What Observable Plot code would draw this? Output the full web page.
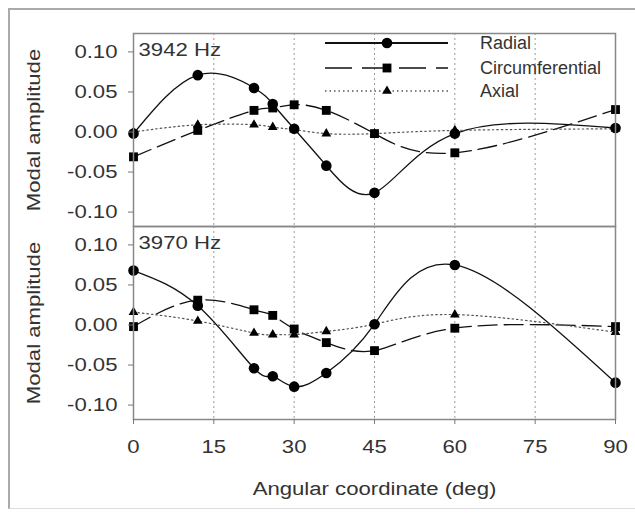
<!DOCTYPE html>
<html><head><meta charset="utf-8">
<script src="https://cdn.jsdelivr.net/npm/d3@7"></script>
<script src="https://cdn.jsdelivr.net/npm/@observablehq/plot@0.6"></script>
<style>
body{margin:0;background:#fff;}
#wrap{position:relative;width:635px;height:518px;overflow:hidden;}
#border{position:absolute;left:8px;top:8px;width:640px;height:498px;border-left:2px solid #aaa;border-top:2px solid #aaa;border-bottom:1px solid #ddd;}
#wrap svg{position:absolute;left:0;top:0;}
</style></head><body><div id="wrap"><div id="border"></div></div>
<script>
const panels = ["3942 Hz", "3970 Hz"];
const seriesNames = ["Radial", "Circumferential", "Axial"];
const angles = [0, 12, 22.5, 26, 30, 36, 45, 60, 90];
const radial3942 = [-0.002, 0.071, 0.055, 0.035, 0.004, -0.042, -0.076, -0.002, 0.005];
const circ3942   = [-0.031, 0.002, 0.027, 0.030, 0.034, 0.027, -0.002, -0.026, 0.028];
const axial3942  = [0.000, 0.009, 0.009, 0.006, 0.003, -0.002, -0.002, 0.002, 0.004];
const radial3970 = [0.068, 0.024, -0.054, -0.064, -0.077, -0.060, 0.001, 0.075, -0.072];
const circ3970   = [-0.002, 0.031, 0.019, 0.012, -0.005, -0.022, -0.032, -0.004, -0.002];
const axial3970  = [0.016, 0.005, -0.010, -0.012, -0.012, -0.008, 0.001, 0.013, -0.009];
const xTicks = [0, 15, 30, 45, 60, 75, 90];
const gridTicks = [15, 30, 45, 60, 75];
const yTicks = [-0.10, -0.05, 0.00, 0.05, 0.10];
const yLabel = "Modal amplitude";
const xLabel = "Angular coordinate (deg)";

const seriesValues = {
  "3942 Hz": {Radial: radial3942, Circumferential: circ3942, Axial: axial3942},
  "3970 Hz": {Radial: radial3970, Circumferential: circ3970, Axial: axial3970}
};
const rows = [];
for (const p of panels) for (const s of seriesNames)
  seriesValues[p][s].forEach((v, i) => rows.push({panel: p, series: s, angle: angles[i], value: v}));

const styles = {
  Radial: {dash: null, symbol: "circle", r: 5.3, width: 1.3, stroke: "#111", legendDash: null},
  Circumferential: {dash: "19,7", symbol: "square", r: 5, width: 1.3, stroke: "#111", legendDash: "27,10"},
  Axial: {dash: "1.5,3", symbol: "triangle", r: 3.6, width: 1.2, stroke: "#555", legendDash: "1.5,3"}
};

const marks = [
  Plot.ruleX(gridTicks, {stroke: "#999", strokeDasharray: "2,3", strokeWidth: 1}),
];
for (const s of seriesNames) {
  const d = rows.filter(r => r.series === s);
  marks.push(Plot.line(d, {x: "angle", y: "value", fy: "panel", z: "panel", curve: "natural",
    stroke: styles[s].stroke, strokeWidth: styles[s].width, strokeDasharray: styles[s].dash}));
}
for (const s of seriesNames) {
  const d = rows.filter(r => r.series === s);
  marks.push(Plot.dot(d, {x: "angle", y: "value", fy: "panel", symbol: () => styles[s].symbol,
    r: styles[s].r, fill: "#000", stroke: "none"}));
}
marks.push(
  Plot.frame({stroke: "#888", strokeWidth: 1.5}),
  Plot.text(panels, {fy: d => d, text: d => d, frameAnchor: "top-left", dx: 5, dy: 10,
    lineAnchor: "top", textAnchor: "start", fontSize: 18, fill: "#333"}),
  Plot.text(panels, {fy: d => d, text: () => yLabel, frameAnchor: "left", rotate: -90,
    textAnchor: "middle", dx: -99, fontSize: 18, fill: "#333"}),
  Plot.axisY({ticks: yTicks, tickFormat: d => d.toFixed(2), tickSize: 5, tickPadding: 11,
    label: null, stroke: "#777", fill: "#333", fontSize: 18}),
  Plot.axisX({ticks: xTicks, tickSize: 5, tickPadding: 16, label: xLabel, labelAnchor: "center",
    labelArrow: "none", labelOffset: 75, stroke: "#777", fill: "#333", fontSize: 18})
);

const chart = Plot.plot({
  width: 635, height: 518,
  marginLeft: 133, marginRight: 20, marginTop: 33, marginBottom: 99,
  style: {fontFamily: "'Liberation Sans', Arial, sans-serif", fontSize: "18px", background: "transparent", color: "#333"},
  x: {domain: [0, 90]},
  y: {domain: [-0.118, 0.123]},
  fy: {domain: panels, padding: 0, axis: null},
  marks
});
const wrap = document.getElementById("wrap");
wrap.appendChild(chart);

// widen text glyphs to match the wide face used in the original
chart.querySelectorAll("text").forEach(t => {
  const len = t.getComputedTextLength();
  if (len > 0) {
    t.setAttribute("textLength", (len * 1.23).toFixed(1));
    t.setAttribute("lengthAdjust", "spacingAndGlyphs");
  }
});

// legend
const leg = d3.select(wrap).append("svg").attr("width", 635).attr("height", 518)
  .style("font-family", "'Liberation Sans', Arial, sans-serif");
const legY = [43, 68, 91];
seriesNames.forEach((s, i) => {
  const st = styles[s];
  const g = leg.append("g").attr("transform", `translate(0,${legY[i]})`);
  g.append("line").attr("x1", 325).attr("x2", 448).attr("stroke", st.stroke)
    .attr("stroke-width", s === "Radial" ? 2 : st.width + 0.2)
    .attr("stroke-dasharray", st.legendDash);
  g.append("path").attr("transform", "translate(387,0)")
    .attr("d", d3.symbol(s === "Radial" ? d3.symbolCircle : s === "Circumferential" ? d3.symbolSquare : d3.symbolTriangle,
      Math.PI * st.r * st.r)())
    .attr("fill", "#000");
  g.append("text").attr("x", 480).attr("dy", "0.35em").attr("font-size", 18).attr("fill", "#333").text(s);
});
</script></body></html>
